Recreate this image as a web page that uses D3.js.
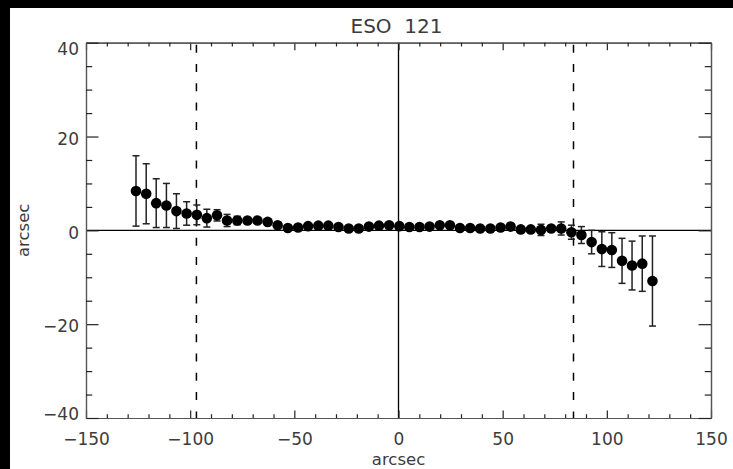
<!doctype html>
<html>
  <head>
    <meta charset="utf-8">
    <script src="https://d3js.org/d3.v7.min.js"></script>
    <style>
      body { margin: 0; background: #000; }
      svg { display: block; }
      text { font-family: "DejaVu Sans", sans-serif; fill: #3c3c3c; }
    </style>
  </head>
  <body>
    <svg id="chart" width="733" height="469"></svg>
    <script>
      /* positions along the slit (arcsec) */
      var xPos = [-126.0, -121.1, -116.3, -111.4, -106.6, -101.7, -96.8, -92.0, -87.1, -82.3,
                  -77.4, -72.5, -67.7, -62.8, -58.0, -53.1, -48.2, -43.4, -38.5, -33.7,
                  -28.8, -23.9, -19.1, -14.2, -9.4, -4.5, 0.4, 5.2, 10.1, 14.9,
                  19.8, 24.7, 29.5, 34.4, 39.2, 44.1, 49.0, 53.8, 58.7, 63.5,
                  68.4, 73.3, 78.1, 83.0, 87.8, 92.7, 97.6, 102.4, 107.3, 112.1,
                  117.0, 121.9];
      /* measured offsets (arcsec) */
      var yVal = [8.4, 7.8, 5.8, 5.3, 4.1, 3.6, 3.3, 2.6, 3.2, 2.1,
                  2.1, 2.1, 2.1, 1.8, 1.1, 0.5, 0.6, 0.9, 1.0, 1.0,
                  0.7, 0.4, 0.4, 0.8, 1.0, 1.1, 0.9, 0.7, 0.7, 0.8,
                  1.1, 1.1, 0.5, 0.5, 0.4, 0.4, 0.6, 0.8, 0.2, 0.2,
                  0.1, 0.4, 0.4, -0.4, -1.0, -2.5, -4.0, -4.2, -6.5, -7.5,
                  -7.1, -10.8];
      /* errors */
      var yErr = [7.5, 6.4, 5.2, 4.7, 3.7, 2.5, 2.1, 1.9, 1.2, 1.3,
                  0.9, 0.5, 0.4, 0.4, 0.4, 0.4, 0.3, 0.3, 0.3, 0.3,
                  0.3, 0.3, 0.3, 0.3, 0.3, 0.3, 0.3, 0.3, 0.3, 0.3,
                  0.3, 0.3, 0.3, 0.3, 0.3, 0.3, 0.3, 0.3, 0.3, 0.3,
                  1.2, 0.6, 1.4, 1.5, 1.8, 2.5, 3.7, 3.7, 4.8, 5.2,
                  5.9, 9.6];

      var xMajor = [-150, -100, -50, 0, 50, 100, 150];
      var xMinor = [-140, -130, -120, -110, -90, -80, -70, -60, -40, -30, -20, -10,
                    10, 20, 30, 40, 60, 70, 80, 90, 110, 120, 130, 140];
      var yMajor = [-40, -20, 0, 20, 40];
      var yMinor = [-35, -30, -25, -15, -10, -5, 5, 10, 15, 25, 30, 35];
      var dashedAt = [-97, 84];
      var title = "ESO  121";
      var axisLabel = "arcsec";

      var svg = d3.select("#chart");
      var W = 733, H = 469;
      var pL = 86, pR = 711, pT = 42.7, pB = 418;

      /* white page with black border on left/top */
      svg.append("rect").attr("x", 10).attr("y", 8).attr("width", W - 10).attr("height", H - 8)
        .attr("fill", "#fff");

      var x = d3.scaleLinear().domain([-150, 150]).range([pL, pR]);
      var y = d3.scaleLinear().domain([-40, 40]).range([pB, pT]);

      var points = xPos.map(function(d, i) { return {x: d, y: yVal[i], e: yErr[i]}; });

      /* dashed verticals */
      svg.selectAll("line.dash").data(dashedAt).enter().append("line")
        .attr("class", "dash")
        .attr("x1", function(d) { return x(d); }).attr("x2", function(d) { return x(d); })
        .attr("y1", y(40) + 2).attr("y2", y(-40))
        .attr("stroke", "#000").attr("stroke-width", 1.5)
        .attr("stroke-dasharray", "8,11.3");

      /* zero lines */
      svg.append("line").attr("x1", x(-150)).attr("x2", x(150)).attr("y1", y(0)).attr("y2", y(0))
        .attr("stroke", "#000").attr("stroke-width", 1.3);
      svg.append("line").attr("x1", x(0)).attr("x2", x(0)).attr("y1", y(40)).attr("y2", y(-40))
        .attr("stroke", "#000").attr("stroke-width", 1.3);

      /* error bars */
      var eb = svg.append("g").attr("stroke", "#222").attr("stroke-width", 1.5);
      eb.selectAll("line.v").data(points).enter().append("line")
        .attr("x1", function(d) { return x(d.x); }).attr("x2", function(d) { return x(d.x); })
        .attr("y1", function(d) { return y(d.y + d.e); }).attr("y2", function(d) { return y(d.y - d.e); });
      eb.selectAll("line.t").data(points).enter().append("line")
        .attr("x1", function(d) { return x(d.x) - 3.5; }).attr("x2", function(d) { return x(d.x) + 3.5; })
        .attr("y1", function(d) { return y(d.y + d.e); }).attr("y2", function(d) { return y(d.y + d.e); });
      eb.selectAll("line.b").data(points).enter().append("line")
        .attr("x1", function(d) { return x(d.x) - 3.5; }).attr("x2", function(d) { return x(d.x) + 3.5; })
        .attr("y1", function(d) { return y(d.y - d.e); }).attr("y2", function(d) { return y(d.y - d.e); });

      /* dots */
      svg.selectAll("circle").data(points).enter().append("circle")
        .attr("cx", function(d) { return x(d.x); })
        .attr("cy", function(d) { return y(d.y); })
        .attr("r", 5.3).attr("fill", "#000");

      /* axes, ticks inward */
      function styleAxis(g) {
        g.selectAll("path.domain").attr("stroke", "#555").attr("stroke-width", 1.2);
        g.selectAll(".tick line").attr("stroke", "#222").attr("stroke-width", 1.2);
        g.selectAll("text").style("font-size", "17px");
      }

      var gb = svg.append("g").attr("transform", "translate(0," + pB + ")")
        .call(d3.axisBottom(x).tickValues(xMajor).tickSize(-7.5).tickSizeOuter(0).tickPadding(14.5));
      styleAxis(gb);
      svg.append("g").attr("transform", "translate(0," + pB + ")")
        .call(d3.axisBottom(x).tickValues(xMinor).tickSize(-3.75).tickSizeOuter(0).tickFormat(""))
        .call(styleAxis);

      var gt = svg.append("g").attr("transform", "translate(0," + pT + ")")
        .call(d3.axisTop(x).tickValues(xMajor).tickSize(-7.5).tickSizeOuter(0).tickFormat(""));
      styleAxis(gt);
      svg.append("g").attr("transform", "translate(0," + pT + ")")
        .call(d3.axisTop(x).tickValues(xMinor).tickSize(-3.75).tickSizeOuter(0).tickFormat(""))
        .call(styleAxis);

      var gl = svg.append("g").attr("transform", "translate(" + pL + ",0)")
        .call(d3.axisLeft(y).tickValues(yMajor).tickSize(-12.5).tickSizeOuter(0).tickPadding(7));
      styleAxis(gl);
      gl.selectAll("text").attr("y", function(d) {
        var c = Math.max(Math.min(y(d) + 2.3, pB - 4.4), pT + 6.4);
        return c - y(d);
      });
      svg.append("g").attr("transform", "translate(" + pL + ",0)")
        .call(d3.axisLeft(y).tickValues(yMinor).tickSize(-6.25).tickSizeOuter(0).tickFormat(""))
        .call(styleAxis);

      var gr = svg.append("g").attr("transform", "translate(" + pR + ",0)")
        .call(d3.axisRight(y).tickValues(yMajor).tickSize(-12.5).tickSizeOuter(0).tickFormat(""));
      styleAxis(gr);
      gr.select("path.domain").attr("stroke", "#000");
      svg.append("g").attr("transform", "translate(" + pR + ",0)")
        .call(d3.axisRight(y).tickValues(yMinor).tickSize(-6.25).tickSizeOuter(0).tickFormat(""))
        .call(styleAxis);

      /* titles */
      svg.append("text").attr("x", (pL + pR) / 2 - 2).attr("y", 33)
        .attr("text-anchor", "middle").style("font-size", "20px").style("white-space", "pre")
        .text(title);
      svg.append("text").attr("x", (pL + pR) / 2).attr("y", 465)
        .attr("text-anchor", "middle").style("font-size", "16.5px").text(axisLabel);
      svg.append("text").attr("transform", "translate(29," + ((pT + pB) / 2) + ") rotate(-90)")
        .attr("text-anchor", "middle").style("font-size", "16.5px").text(axisLabel);
    </script>
  </body>
</html>
